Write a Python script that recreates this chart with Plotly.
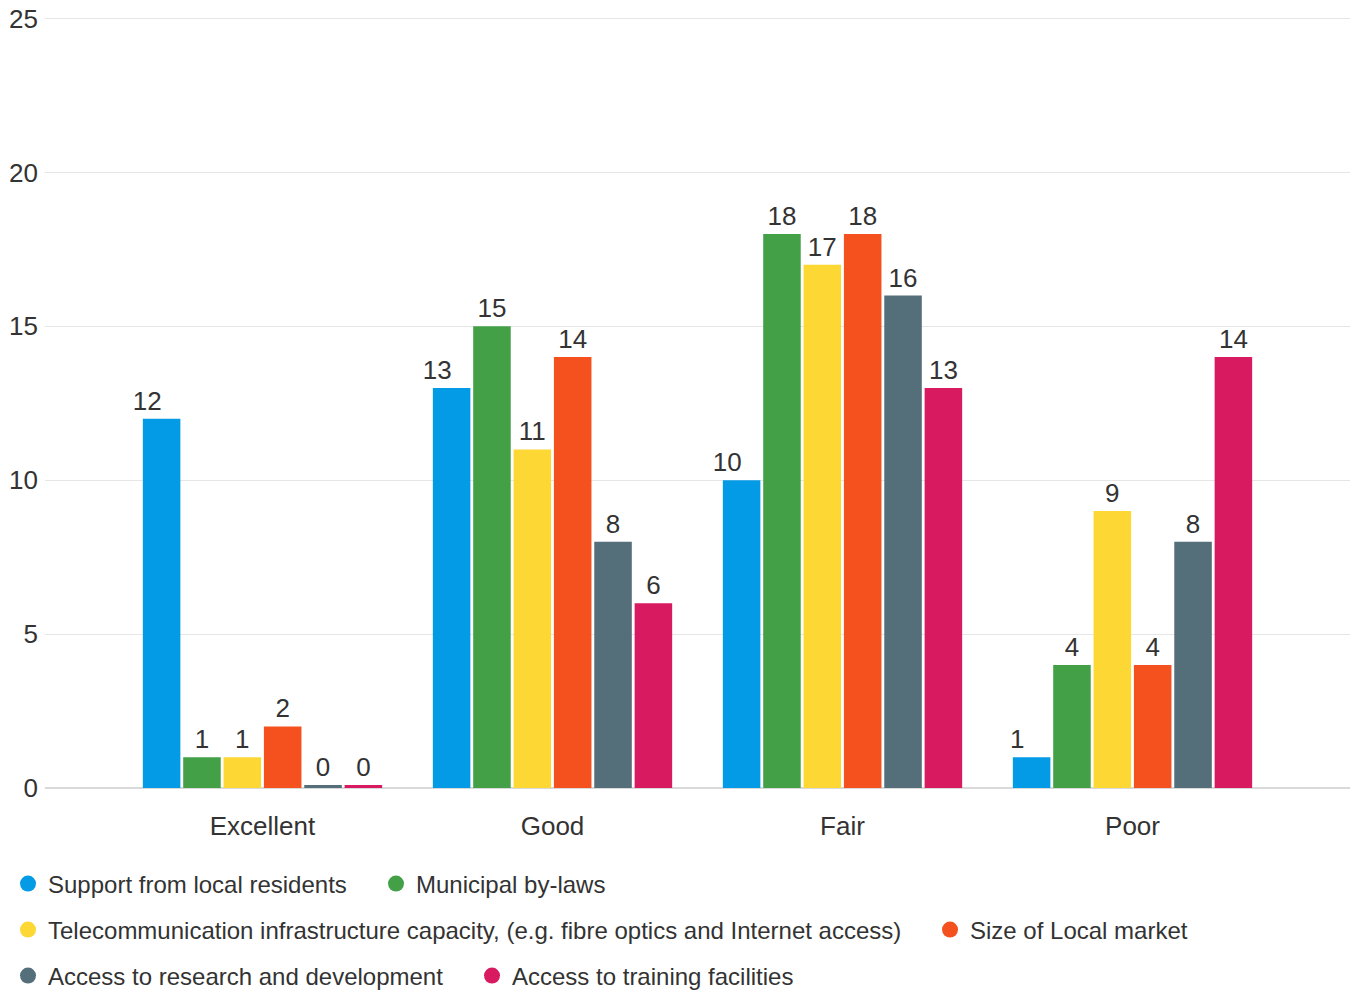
import plotly.graph_objects as go
import numpy as np

categories = ["Excellent", "Good", "Fair", "Poor"]
series_names = [
    "Support from local residents",
    "Municipal by-laws",
    "Telecommunication infrastructure capacity, (e.g. fibre optics and Internet access)",
    "Size of Local market",
    "Access to research and development",
    "Access to training facilities",
]
support = [12, 13, 10, 1]
bylaws = [1, 15, 18, 4]
telecom = [1, 11, 17, 9]
market = [2, 14, 18, 4]
research = [0, 8, 16, 8]
training = [0, 6, 13, 14]
series_values = [support, bylaws, telecom, market, research, training]
colors = ["#039BE5", "#43A047", "#FDD835", "#F4511E", "#546E7A", "#D81B60"]
y_ticks = [0, 5, 10, 15, 20, 25]

FONT = "Liberation Sans, Arial, sans-serif"
TXT = "#333333"
W, H = 1355, 994
NBSP = "\u00a0"

# legend entry anchor positions (container pixels: left, vertical centre)
legend_pos = [(8, 884), (376, 884), (8, 930), (930, 930), (8, 976), (472, 976)]
# the first series' value labels sit slightly left of their bars in the reference
label_pad = [4, 0, 0, 0, 0, 0]

fig = go.Figure()
for i, (name, vals, col) in enumerate(zip(series_names, series_values, colors)):
    vals = np.array(vals, dtype=float)
    shown = np.maximum(vals, 0.1)  # keep zero bars visible as a thin sliver
    lg = "legend" if i == 0 else f"legend{i + 1}"
    fig.add_trace(go.Bar(
        x=categories, y=shown, name=name, marker_color=col,
        marker_line_width=0,
        text=[str(int(v)) + NBSP * label_pad[i] for v in vals],
        textposition="outside", constraintext="none",
        textfont=dict(size=26, color=TXT, family=FONT),
        cliponaxis=False, showlegend=False, legendgroup=name,
        hoverinfo="skip",
    ))
    fig.add_trace(go.Scatter(
        x=[None], y=[None], mode="markers", name=name, legendgroup=name,
        marker=dict(symbol="circle", size=20, color=col), legend=lg,
        showlegend=True,
    ))

legends = {}
for i, (px, py) in enumerate(legend_pos):
    key = "legend" if i == 0 else f"legend{i + 1}"
    legends[key] = dict(
        orientation="h", xref="container", yref="container",
        x=px / W, y=1 - py / H, xanchor="left", yanchor="middle",
        bgcolor="rgba(0,0,0,0)", itemclick=False,
        font=dict(size=24, color=TXT, family=FONT),
    )

fig.update_layout(
    width=W, height=H,
    margin=dict(l=45, r=5, t=17, b=206, autoexpand=False),
    plot_bgcolor="white", paper_bgcolor="white",
    font=dict(family=FONT, color=TXT, size=26),
    barmode="group", bargap=0.165, bargroupgap=0.07,
    xaxis=dict(
        range=[-0.75, 3.75], showgrid=False, ticks="", showline=False,
        tickfont=dict(size=26, color=TXT), ticklabelstandoff=20,
        zeroline=False, automargin=False,
    ),
    yaxis=dict(
        range=[0, 25.05], tickvals=y_ticks, showgrid=True,
        gridcolor="#e6e6e6", gridwidth=1, zeroline=True, zerolinecolor="#d9d9d9",
        zerolinewidth=2, tickfont=dict(size=26, color=TXT), ticks="",
        showline=False, ticklabeloverflow="allow", ticklabelstandoff=6,
        automargin=False,
    ),
    **legends,
)
fig.write_html("out.html", config={"displayModeBar": False},
               post_script="document.body.style.margin='0';")
